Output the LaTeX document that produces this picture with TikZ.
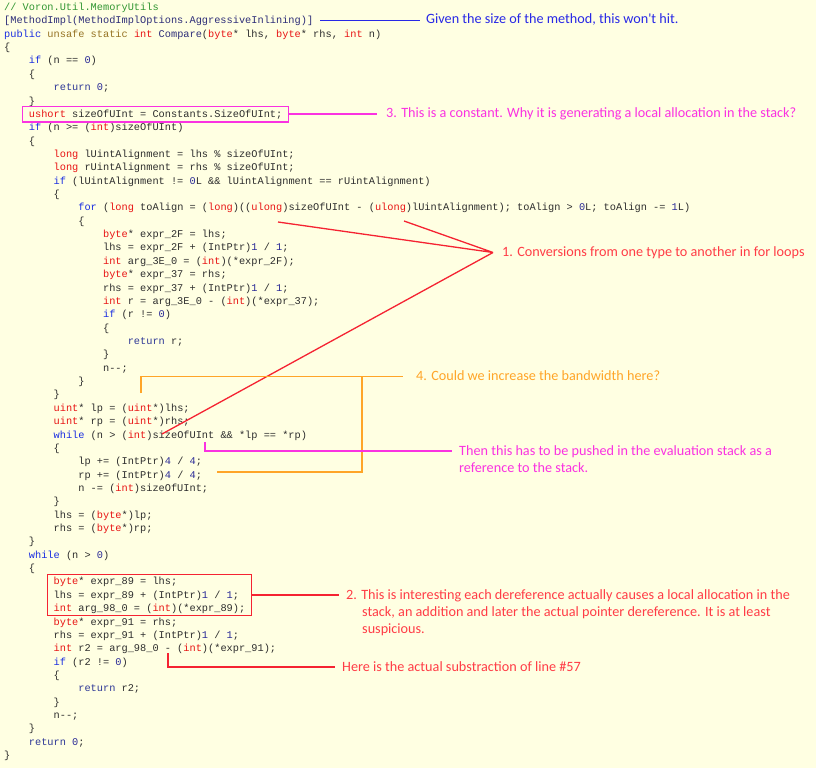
\documentclass[tikz,border=0pt]{standalone}
\usepackage{fontspec}
\setmonofont{Liberation Mono}
\newfontfamily\calibriLike{Carlito}
\usetikzlibrary{fit}
\definecolor{paper}{RGB}{255,255,226}
\definecolor{identGray}{RGB}{45,45,45}
\definecolor{kwBlue}{RGB}{25,45,225}
\definecolor{retNavy}{RGB}{45,55,150}
\definecolor{typeRed}{RGB}{232,20,20}
\definecolor{numNavy}{RGB}{40,40,150}
\definecolor{modOlive}{RGB}{150,115,35}
\definecolor{attrNavy}{RGB}{45,45,120}
\definecolor{cmtGreen}{RGB}{50,150,50}
\definecolor{noteBlue}{RGB}{40,40,230}
\definecolor{noteMagenta}{RGB}{250,50,225}
\definecolor{noteRed}{RGB}{255,60,70}
\definecolor{lineRed}{RGB}{245,35,50}
\definecolor{noteOrange}{RGB}{255,165,40}
\newcommand{\codeFont}{\ttfamily\fontsize{10.3}{13.36}\selectfont}
\newcommand{\noteFont}{\calibriLike\fontsize{14.2}{17}\selectfont}
\newcommand{\keyword}[1]{\textcolor{kwBlue}{#1}}
\newcommand{\typename}[1]{\textcolor{typeRed}{#1}}
\newcommand{\numlit}[1]{\textcolor{numNavy}{#1}}
\newcommand{\modword}[1]{\textcolor{modOlive}{#1}}
\newcommand{\attrname}[1]{\textcolor{attrNavy}{#1}}
\newcommand{\retword}{\textcolor{retNavy}{return}}
\newcommand{\decr}{-\kern0pt-}
\begin{document}
\begin{tikzpicture}[x=1pt, y=-1pt]
        \tikzset{
           code/.style={
                        anchor=base west,
                        inner sep=0pt,
                        font=\codeFont,
                        text=identGray,
                        text height=10pt,
                        text depth=3.36pt
                       },
           note/.style={
                        anchor=base west,
                        inner sep=0pt,
                        align=left,
                        font=\noteFont
                       },
           markBox/.style={
                        rectangle,
                        draw=#1,
                        line width=1.3pt,
                        inner xsep=6pt,
                        inner ysep=1pt
                       },
           markLine/.style={
                        draw=#1,
                        line width=1.3pt
                       },
                 };
        \fill[paper] (0,0) rectangle (816,768);
        \useasboundingbox (0,0) rectangle (816,768);
    %--------------------
    \begin{scope}[x=24.72pt, y=-13.36pt, xshift=4pt, yshift=-10.5pt]
        \node[code] (line1)  at (0,0)  {\textcolor{cmtGreen}{// Voron.Util.MemoryUtils}};
        \node[code] (line2)  at (0,1)  {\attrname{[MethodImpl(MethodImplOptions.AggressiveInlining)]}};
        \node[code] (line3)  at (0,2)  {\keyword{public} \modword{unsafe static} \typename{int} \attrname{Compare}(\typename{byte}* lhs, \typename{byte}* rhs, \typename{int} n)};
        \node[code] (line4)  at (0,3)  {\{};
        \node[code] (line5)  at (1,4)  {\keyword{if} (n == \numlit{0})};
        \node[code] (line6)  at (1,5)  {\{};
        \node[code] (line7)  at (2,6)  {\retword\ \numlit{0};};
        \node[code] (line8)  at (1,7)  {\}};
        \node[code] (line9)  at (1,8)  {\typename{ushort} sizeOfUInt = Constants.SizeOfUInt;};
        \node[code] (line10) at (1,9)  {\keyword{if} (n >= (\typename{int})sizeOfUInt)};
        \node[code] (line11) at (1,10) {\{};
        \node[code] (line12) at (2,11) {\typename{long} lUintAlignment = lhs \% sizeOfUInt;};
        \node[code] (line13) at (2,12) {\typename{long} rUintAlignment = rhs \% sizeOfUInt;};
        \node[code] (line14) at (2,13) {\keyword{if} (lUintAlignment != \numlit{0}L \&\& lUintAlignment == rUintAlignment)};
        \node[code] (line15) at (2,14) {\{};
        \node[code] (line16) at (3,15) {\keyword{for} (\typename{long} toAlign = (\typename{long})((\typename{ulong})sizeOfUInt - (\typename{ulong})lUintAlignment); toAlign > \numlit{0}L; toAlign -= \numlit{1}L)};
        \node[code] (line17) at (3,16) {\{};
        \node[code] (line18) at (4,17) {\typename{byte}* expr\_2F = lhs;};
        \node[code] (line19) at (4,18) {lhs = expr\_2F + (IntPtr)\numlit{1} / \numlit{1};};
        \node[code] (line20) at (4,19) {\typename{int} arg\_3E\_0 = (\typename{int})(*expr\_2F);};
        \node[code] (line21) at (4,20) {\typename{byte}* expr\_37 = rhs;};
        \node[code] (line22) at (4,21) {rhs = expr\_37 + (IntPtr)\numlit{1} / \numlit{1};};
        \node[code] (line23) at (4,22) {\typename{int} r = arg\_3E\_0 - (\typename{int})(*expr\_37);};
        \node[code] (line24) at (4,23) {\keyword{if} (r != \numlit{0})};
        \node[code] (line25) at (4,24) {\{};
        \node[code] (line26) at (5,25) {\retword\ r;};
        \node[code] (line27) at (4,26) {\}};
        \node[code] (line28) at (4,27) {n\decr;};
        \node[code] (line29) at (3,28) {\}};
        \node[code] (line30) at (2,29) {\}};
        \node[code] (line31) at (2,30) {\typename{uint}* lp = (\typename{uint}*)lhs;};
        \node[code] (line32) at (2,31) {\typename{uint}* rp = (\typename{uint}*)rhs;};
        \node[code] (line33) at (2,32) {\keyword{while} (n > (\typename{int})sizeOfUInt \&\& *lp == *rp)};
        \node[code] (line34) at (2,33) {\{};
        \node[code] (line35) at (3,34) {lp += (IntPtr)\numlit{4} / \numlit{4};};
        \node[code] (line36) at (3,35) {rp += (IntPtr)\numlit{4} / \numlit{4};};
        \node[code] (line37) at (3,36) {n -= (\typename{int})sizeOfUInt;};
        \node[code] (line38) at (2,37) {\}};
        \node[code] (line39) at (2,38) {lhs = (\typename{byte}*)lp;};
        \node[code] (line40) at (2,39) {rhs = (\typename{byte}*)rp;};
        \node[code] (line41) at (1,40) {\}};
        \node[code] (line42) at (1,41) {\keyword{while} (n > \numlit{0})};
        \node[code] (line43) at (1,42) {\{};
        \node[code] (line44) at (2,43) {\typename{byte}* expr\_89 = lhs;};
        \node[code] (line45) at (2,44) {lhs = expr\_89 + (IntPtr)\numlit{1} / \numlit{1};};
        \node[code] (line46) at (2,45) {\typename{int} arg\_98\_0 = (\typename{int})(*expr\_89);};
        \node[code] (line47) at (2,46) {\typename{byte}* expr\_91 = rhs;};
        \node[code] (line48) at (2,47) {rhs = expr\_91 + (IntPtr)\numlit{1} / \numlit{1};};
        \node[code] (line49) at (2,48) {\typename{int} r2 = arg\_98\_0 - (\typename{int})(*expr\_91);};
        \node[code] (line50) at (2,49) {\keyword{if} (r2 != \numlit{0})};
        \node[code] (line51) at (2,50) {\{};
        \node[code] (line52) at (3,51) {\retword\ r2;};
        \node[code] (line53) at (2,52) {\}};
        \node[code] (line54) at (2,53) {n\decr;};
        \node[code] (line55) at (1,54) {\}};
        \node[code] (line56) at (1,55) {\retword\ \numlit{0};};
        \node[code] (line57) at (0,56) {\}};
    \end{scope}
    %--------------------
        \node[note, text=noteBlue]    (givenNote) at (426,24)    {Given the size of the method, this won\textquotesingle t hit.};
        \node[note, text=noteMagenta] (constNote) at (386,117)   {3. This is a constant. Why it is generating a local allocation in the stack?};
        \node[note, text=noteRed]     (convNote)  at (502,256.5) {1. Conversions from one type to another in for loops};
        \node[note, text=noteOrange]  (bandNote)  at (416,380.5) {4. Could we increase the bandwidth here?};
        % multi-line notes sit on the baseline of their last line
        \node[note, text=noteMagenta] (evalNote)  at (459,472)   {Then this has to be pushed in the evaluation stack as a\\reference to the stack.};
        \node[note, text=noteRed]     (derefNote) at (346,633)   {2. This is interesting each dereference actually causes a local allocation in the\\\hspace*{16pt}stack, an addition and later the actual pointer dereference. It is at least\\\hspace*{16pt}suspicious.};
        \node[note, text=noteRed]     (subNote)   at (342,671)   {Here is the actual substraction of line \#57};

        \node[markBox=noteMagenta, fit=(line9)]                          (constBox) {};
        \node[markBox=lineRed, inner ysep=0pt, fit=(line44)(line46)]     (derefBox) {};
    %--------------------
        \coordinate (convTip)  at ([xshift=-9pt, yshift=4pt]convNote.base west);
        \coordinate (conv1)    at (278,222);
        \coordinate (conv2)    at (404,221);
        \coordinate (conv3)    at (162,434);
        \coordinate (bandTip)  at ([xshift=-13pt, yshift=4pt]bandNote.base west);
        \coordinate (bandTop)  at (141,393);
        \coordinate (bandBot)  at (217,472);
        \coordinate (bandJoin) at (bandTip -| 362,0);
        \coordinate (evalTip)  at ([xshift=-7pt, yshift=21pt]evalNote.base west);
        \coordinate (evalFrom) at (205,442);
        \coordinate (subTip)   at ([xshift=-7pt, yshift=4pt]subNote.base west);
        \coordinate (subFrom)  at (168,653);

        \draw[markLine=noteBlue, shorten <=7pt, shorten >=6pt] (line2.east) -- (line2.east -| givenNote.west);
        \draw[markLine=noteMagenta, shorten >=9pt] (constBox.east) -- (constBox.east -| constNote.west);
        \draw[markLine=lineRed] (conv1) -- (convTip)
                                (conv2) -- (convTip)
                                (conv3) -- (convTip);
        \draw[markLine=noteOrange] (bandTop) |- (bandTip)
                                   (bandBot) -| (bandJoin);
        \draw[markLine=noteMagenta] (evalFrom) |- (evalTip);
        \draw[markLine=lineRed, shorten >=7pt] (derefBox.east) -- (derefBox.east -| derefNote.west);
        \draw[markLine=lineRed] (subFrom) |- (subTip);
\end{tikzpicture}
\end{document}
